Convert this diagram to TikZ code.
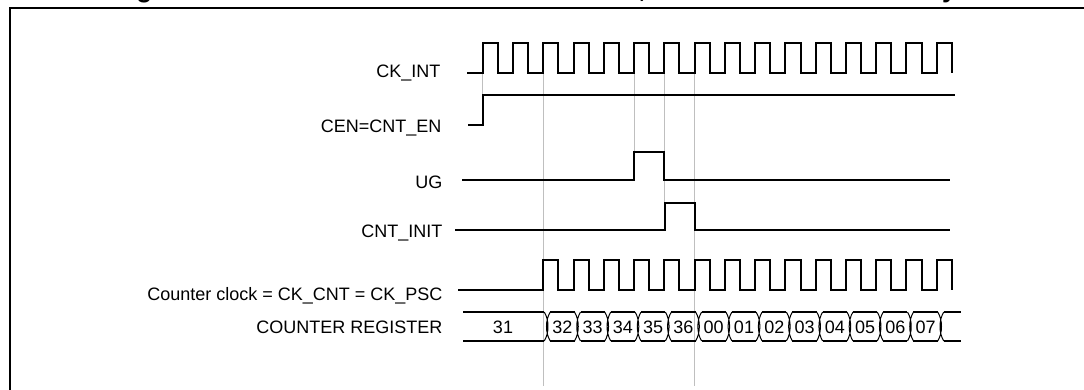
\documentclass[tikz,border=0pt]{standalone}
\usepackage{fontspec}
\setmainfont{Liberation Sans}
\tikzset{
  wave/.style={line width=2pt},
  guide/.style={black!25, line width=1pt},
  lbl/.style={anchor=base east},
  cross/.style={line width=1pt}
}
\begin{document}
\begin{tikzpicture}[x=1pt, y=-1pt, font=\fontsize{18}{20}\selectfont, line join=miter]
	\useasboundingbox (0,0) rectangle (1084,389);
	% frame and cut title
	\draw[line width=2pt] (10,400) -- (10,7.5) -- (1100,7.5);
	\node[anchor=base west, inner sep=0pt, font=\bfseries\fontsize{26}{28}\selectfont] (title) at (113,-3) {Figure 129. Control circuit in normal mode, internal clock divided by 1};
	% guide lines
	\foreach \k/\e in {0/95, 2/386, 5/180, 6/230, 7/386}
	\draw[guide] ({482.7+\k*30.27},72.5) -- ({482.7+\k*30.27},\e);
	% labels
	\node[lbl] (ckint)  at (444,77.5) {CK\_INT};
	\node[lbl] (cen)    at (445,132)  {CEN=CNT\_EN};
	\node[lbl] (ug)     at (446,188.5) {UG};
	\node[lbl] (cntini) at (446,237.5) {CNT\_INIT};
	\node[lbl] (ckcnt)  at (446,300)  {Counter clock = CK\_CNT = CK\_PSC};
	\node[lbl] (reg)    at (446,333)  {COUNTER REGISTER};
	% CK_INT
	\draw[wave] (467,72.5) \foreach \k in {0,...,15}{ -- ({482.7+\k*30.27},72.5) -- ++(0,-30) -- ++(15.135,0) -- ++(0,30)};
	% CEN
	\draw[wave] (468,125) -- (482.7,125) -- (482.7,95) -- (955,95);
	% UG
	\draw[wave] (462,180) -- ({482.7+5*30.27},180) -- ++(0,-28.3) -- ({482.7+6*30.27},151.7) -- ++(0,28.3) -- (950,180);
	% CNT_INIT
	\draw[wave] (455,230) -- ({482.7+6*30.27+1},230) -- ++(0,-27.3) -- ({482.7+7*30.27},202.7) -- ++(0,27.3) -- (950,230);
	% counter clock
	\draw[wave] (458,289.5) \foreach \k in {2,...,15}{ -- ({482.7+\k*30.27},289.5) -- ++(0,-29.5) -- ++(15.135,0) -- ++(0,29.5)};
	% counter register
	\draw[wave] (463,312) -- ({482.7+2*30.27+1},312) (463,341) -- ({482.7+2*30.27+1},341);
	\node (v31) at (503,327) {31};
	\foreach \k in {2,...,15}
	\draw[cross] ({482.7+\k*30.27+1},312) .. controls ({482.7+\k*30.27+6},320) and ({482.7+\k*30.27+6},333) .. ({482.7+\k*30.27+1},341)
	             ({482.7+\k*30.27+7},312) .. controls ({482.7+\k*30.27+2},320) and ({482.7+\k*30.27+2},333) .. ({482.7+\k*30.27+7},341);
	\foreach \k in {2,...,14}
	\draw[wave] ({482.7+\k*30.27+7},312) -- ({482.7+\k*30.27+31.27},312) ({482.7+\k*30.27+7},341) -- ({482.7+\k*30.27+31.27},341);
	\draw[wave] ({482.7+15*30.27+7},312) -- (961,312) ({482.7+15*30.27+7},341) -- (961,341);
	\foreach \v [count=\k from 2] in {32,33,34,35,36,00,01,02,03,04,05,06,07}
	\node[inner sep=0pt] (v\v) at ({482.7+\k*30.27+19.135},327) {\v};
\end{tikzpicture}
\end{document}
